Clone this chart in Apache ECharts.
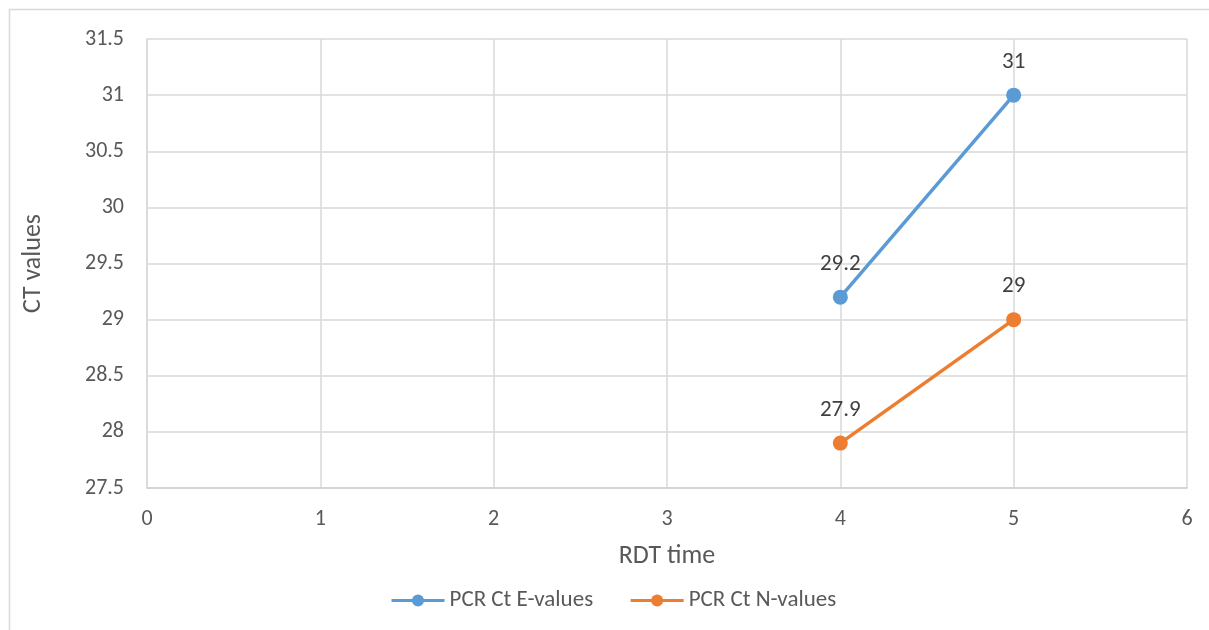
<!DOCTYPE html>
<html><head><meta charset="utf-8">
<script src="https://cdn.jsdelivr.net/npm/echarts@6/dist/echarts.min.js"></script>
<style>html,body{margin:0;padding:0;background:#fff}#c{width:1209px;height:630px}</style>
</head><body><div id="c"></div>
<script>
const xValues = [4, 5];
const eValues = [29.2, 31];
const nValues = [27.9, 29];
const seriesNames = ['PCR Ct E-values', 'PCR Ct N-values'];
const xAxisName = 'RDT time';
const yAxisName = 'CT values';

const font = 'Carlito, Lato, "Open Sans", sans-serif';
const chart = echarts.init(document.getElementById('c'));
const labelCfg = {show: true, position: 'top', distance: 14, color: '#404040', fontSize: 23, fontFamily: font};
chart.setOption({
  animation: false,
  backgroundColor: '#fff',
  graphic: [{type: 'rect', shape: {x: 9.5, y: 9.5, width: 1400, height: 800}, style: {fill: 'none', stroke: '#d9d9d9', lineWidth: 1.5}, silent: true}],
  grid: {left: 147, right: 22, top: 39, bottom: 142},
  legend: {
    top: 584, left: 385, itemWidth: 53, itemHeight: 15, itemGap: 36,
    lineStyle: {width: 3},
    textStyle: {color: '#595959', fontSize: 23, fontFamily: font},
    data: seriesNames
  },
  xAxis: {
    type: 'value', min: 0, max: 6, interval: 1,
    name: xAxisName, nameLocation: 'middle', nameGap: 55,
    nameTextStyle: {color: '#595959', fontSize: 26, fontFamily: font},
    axisLine: {show: true, lineStyle: {color: '#cfcfcf', width: 1.5}},
    axisTick: {show: false},
    axisLabel: {color: '#595959', fontSize: 22, fontFamily: font, margin: 20},
    splitLine: {show: true, lineStyle: {color: '#d9d9d9', width: 1.5}}
  },
  yAxis: {
    type: 'value', min: 27.5, max: 31.5, interval: 0.5,
    name: yAxisName, nameLocation: 'middle', nameGap: 101,
    nameTextStyle: {color: '#595959', fontSize: 26, fontFamily: font},
    axisLine: {show: true, lineStyle: {color: '#d9d9d9', width: 1.5}},
    axisTick: {show: false},
    axisLabel: {color: '#595959', fontSize: 22, fontFamily: font, margin: 23},
    splitLine: {show: true, lineStyle: {color: '#d9d9d9', width: 1.5}}
  },
  series: [
    {name: seriesNames[0], type: 'line', data: xValues.map((x, i) => [x, eValues[i]]),
     symbol: 'circle', symbolSize: 15, lineStyle: {width: 3.5, color: '#5b9bd5'}, itemStyle: {color: '#5b9bd5'}, label: labelCfg},
    {name: seriesNames[1], type: 'line', data: xValues.map((x, i) => [x, nValues[i]]),
     symbol: 'circle', symbolSize: 15, lineStyle: {width: 3.5, color: '#ed7d31'}, itemStyle: {color: '#ed7d31'}, label: labelCfg}
  ]
});
</script></body></html>
